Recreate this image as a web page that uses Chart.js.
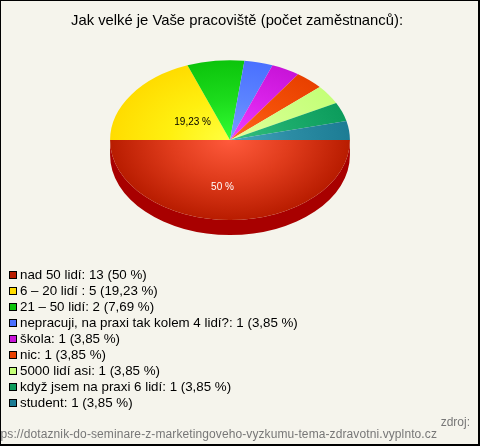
<!DOCTYPE html>
<html>
<head>
<meta charset="utf-8">
<script src="https://cdn.jsdelivr.net/npm/chart.js@4"></script>
<style>
html,body{margin:0;padding:0;background:#f5f4ec;}
#box{position:absolute;left:0;top:0;width:480px;height:446px;overflow:hidden;font-family:"Liberation Sans",Arial,sans-serif;}
#frame{position:absolute;left:0;top:0;width:477px;height:443px;border:solid #000;border-width:1px 2px 2px 1px;}
canvas{position:absolute;left:0;top:0;}
#legend{position:absolute;left:0;top:267px;font-size:13.33px;color:#000;}
.row{position:relative;height:16px;line-height:16px;white-space:pre;padding-left:20px;}
.swatch{position:absolute;left:9px;top:4px;width:6px;height:6px;border:1px solid #000;}
#zdroj{position:absolute;right:10px;top:415px;font-size:12px;color:#777;}
#url{position:absolute;right:43px;top:427px;font-size:12px;letter-spacing:0.1px;color:#777;white-space:nowrap;}
</style>
</head>
<body>
<div id="box">
<canvas id="chart" width="480" height="446"></canvas>
<div id="legend"></div>
<div id="zdroj">zdroj:</div>
<div id="url">https://dotaznik-do-seminare-z-marketingoveho-vyzkumu-tema-zdravotni.vyplnto.cz</div>
<div id="frame"></div>
</div>
<script>
let titleText='Jak velké je Vaše pracoviště (počet zaměstnanců):';
let categories=['nad 50 lidí','6 – 20 lidí ','21 – 50 lidí','nepracuji, na praxi tak kolem 4 lidí?','škola','nic','5000 lidí asi','když jsem na praxi 6 lidí','student'];
let values=[13,5,2,1,1,1,1,1,1];
let percents=['50 %','19,23 %','7,69 %','3,85 %','3,85 %','3,85 %','3,85 %','3,85 %','3,85 %'];
let edgeColors=['#b81c00','#ffdc00','#0cc40c','#4a70ff','#c814d8','#e84000','#c4ff78','#0c9c5c','#1c7c94'];
let midColors=['#e03c1c','#fff010','#1cdc1c','#5c84ff','#dc24ec','#f45008','#d0ff88','#1cac6c','#2c8ca4'];
let lightColors=['#ff5a3c','#ffff40','#33ff33','#7a9cff','#f040ff','#ff6a20','#e4ffa0','#38c080','#48a8c0'];
let sideColor='#a80000';

let squash=2/3;
let depth=15;

function sliceGradient(context) {
    let area=context.chart.chartArea;
    if (!area) return edgeColors[context.dataIndex];
    let cx=(area.left+area.right)/2;
    let cy=(area.top+area.bottom)/2;
    let g=context.chart.ctx.createRadialGradient(cx,cy,0,cx,cy,120);
    g.addColorStop(0,lightColors[context.dataIndex]);
    g.addColorStop(0.5,midColors[context.dataIndex]);
    g.addColorStop(1,edgeColors[context.dataIndex]);
    return g;
}

// the library only draws flat pies, so squash it and add the side of the red slice
let squashPlugin={
    id:'squash',
    afterLayout(chart) {
        // title sits off the pie centre and is wider than the pie
        let t=chart.titleBlock;
        t.left=0; t.right=474;
        t.top+=10; t.bottom+=10;
    },
    beforeDatasetsDraw(chart) {
        let ctx=chart.ctx;
        let el=chart.getDatasetMeta(0).data[0];
        ctx.save();
        ctx.translate(el.x,el.y);
        ctx.scale(1,squash);
        ctx.translate(-el.x,-el.y);
        ctx.save();
        ctx.fillStyle=sideColor;
        ctx.beginPath();
        ctx.arc(el.x,el.y,el.outerRadius,el.startAngle,el.endAngle);
        ctx.arc(el.x,el.y+depth/squash,el.outerRadius,el.endAngle,el.startAngle,true);
        ctx.closePath();
        ctx.fill();
        ctx.restore();
    },
    afterDatasetsDraw(chart) {
        let ctx=chart.ctx;
        ctx.restore();
        let meta=chart.getDatasetMeta(0);
        ctx.font='10px "Liberation Sans"';
        ctx.textAlign='center';
        ctx.textBaseline='middle';
        let p0=meta.data[0].getCenterPoint();
        ctx.fillStyle='#fff';
        ctx.fillText(percents[0],p0.x-7.5,meta.data[0].y+(p0.y-meta.data[0].y)*squash+7);
        let p1=meta.data[1].getCenterPoint();
        ctx.fillStyle='#000';
        ctx.fillText(percents[1],p1.x+12,meta.data[1].y+(p1.y-meta.data[1].y)*squash+5);
    }
};

new Chart(document.getElementById('chart'),{
    type:'pie',
    data:{
        labels:categories,
        datasets:[{data:values,backgroundColor:sliceGradient,borderWidth:0}]
    },
    options:{
        responsive:false,
        animation:false,
        rotation:90,
        layout:{padding:{left:110,right:130,top:2.4,bottom:186}},
        plugins:{
            legend:{display:false},
            tooltip:{enabled:false},
            title:{display:true,text:titleText,color:'#000',padding:0,font:{family:'"Liberation Sans"',size:14.8,weight:'normal'}}
        }
    },
    plugins:[squashPlugin]
});

let legend=document.getElementById('legend');
for (let i=0;i<categories.length;i++) {
    let row=document.createElement('div');
    row.className='row';
    row.textContent=categories[i]+': '+values[i]+' ('+percents[i]+')';
    let swatch=document.createElement('span');
    swatch.className='swatch';
    swatch.style.background=edgeColors[i];
    row.appendChild(swatch);
    legend.appendChild(row);
}
</script>
</body>
</html>
